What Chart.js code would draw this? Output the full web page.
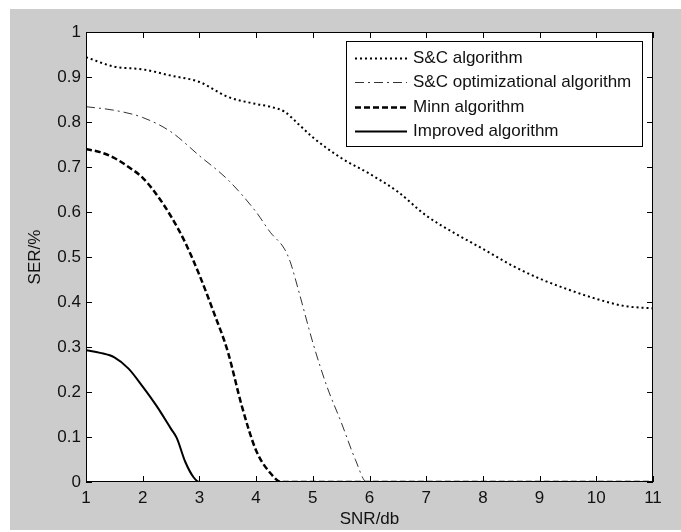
<!DOCTYPE html>
<html>
<head>
<meta charset="utf-8">
<title>SER vs SNR</title>
<script src="https://cdn.jsdelivr.net/npm/chart.js@4.4.1/dist/chart.umd.min.js"></script>
<style>
  html, body { margin: 0; padding: 0; background: #fff; }
  #wrap { width: 681px; height: 532px; }
</style>
</head>
<body>
<div id="wrap"><canvas id="serChart" width="681" height="532"></canvas></div>
<script>
// ---- data ----
const scX   = [1, 1.5, 2, 2.5, 3, 3.5, 4, 4.25, 4.5, 4.75, 5, 5.5, 6, 6.5, 7, 7.5, 8, 8.5, 9, 9.5, 10, 10.5, 11];
const scY   = [0.944, 0.923, 0.917, 0.903, 0.889, 0.856, 0.84, 0.834, 0.823, 0.795, 0.766, 0.72, 0.685, 0.645, 0.592, 0.553, 0.518, 0.482, 0.452, 0.428, 0.407, 0.391, 0.386];

const optX  = [1, 1.5, 2, 2.5, 3, 3.5, 4, 4.25, 4.5, 4.6, 4.75, 5, 5.25, 5.5, 5.75, 5.95, 11];
const optY  = [0.834, 0.826, 0.81, 0.778, 0.725, 0.672, 0.6, 0.555, 0.518, 0.49, 0.425, 0.31, 0.212, 0.133, 0.05, 0, 0];

const minnX = [1, 1.25, 1.5, 1.75, 2, 2.25, 2.5, 2.75, 3, 3.25, 3.5, 3.75, 4, 4.25, 4.45, 11];
const minnY = [0.74, 0.733, 0.72, 0.7, 0.676, 0.638, 0.59, 0.532, 0.46, 0.378, 0.29, 0.168, 0.07, 0.02, 0, 0];

const impX  = [1, 1.25, 1.5, 1.75, 2, 2.25, 2.5, 2.6, 2.75, 2.9, 3, 11];
const impY  = [0.293, 0.287, 0.277, 0.252, 0.212, 0.168, 0.118, 0.098, 0.045, 0.01, 0, 0];

const seriesNames = ['S&C algorithm', 'S&C optimizational algorithm', 'Minn algorithm', 'Improved algorithm'];
const xTicks = [1, 2, 3, 4, 5, 6, 7, 8, 9, 10, 11];
const yTicks = [0, 0.1, 0.2, 0.3, 0.4, 0.5, 0.6, 0.7, 0.8, 0.9, 1];

const FONT = "'Liberation Sans', Arial, sans-serif";

function pts(xs, ys) {
    return xs.map((x, i) => ({ x: x, y: ys[i] }));
}

// ---- figure background, axes box, inward ticks, legend ----
const matlabFrame = {
    id: 'matlabFrame',
    beforeDraw(chart) {
        const { ctx, chartArea: a, width, height } = chart;
        ctx.save();
        ctx.fillStyle = '#ffffff';
        ctx.fillRect(0, 0, width, height);
        ctx.fillStyle = '#cccccc';
        ctx.fillRect(10, 9, width - 10, height - 11);
        ctx.fillStyle = '#ffffff';
        ctx.fillRect(a.left, a.top, a.right - a.left, a.bottom - a.top);
        ctx.restore();
    },
    afterDatasetsDraw(chart) {
        const { ctx, chartArea: a, scales } = chart;
        const x = scales.x, y = scales.y;
        ctx.save();
        ctx.strokeStyle = '#000';
        ctx.lineWidth = 1;
        ctx.strokeRect(a.left + 0.5, a.top + 0.5, a.right - a.left - 1, a.bottom - a.top - 1);

        ctx.beginPath();
        xTicks.forEach(v => {
            const px = Math.round(x.getPixelForValue(v)) + 0.5;
            ctx.moveTo(px, a.bottom); ctx.lineTo(px, a.bottom - 6);
            ctx.moveTo(px, a.top);    ctx.lineTo(px, a.top + 6);
        });
        yTicks.forEach(v => {
            const py = Math.round(y.getPixelForValue(v)) + 0.5;
            ctx.moveTo(a.left, py);  ctx.lineTo(a.left + 6, py);
            ctx.moveTo(a.right, py); ctx.lineTo(a.right - 6, py);
        });
        ctx.stroke();

        // legend box
        const bx = a.right - 307, by = a.top + 9, bw = 296, bh = 105;
        ctx.fillStyle = '#fff';
        ctx.fillRect(bx, by, bw, bh);
        ctx.strokeRect(bx + 0.5, by + 0.5, bw, bh);

        ctx.font = '17px ' + FONT;
        ctx.textBaseline = 'middle';
        ctx.textAlign = 'left';
        chart.data.datasets.forEach((ds, i) => {
            const ly = Math.round(by + 17 + i * 24.4) + 0.5;
            ctx.save();
            ctx.strokeStyle = ds.borderColor;
            ctx.lineWidth = ds.borderWidth;
            ctx.setLineDash(ds.borderDash || []);
            ctx.beginPath();
            ctx.moveTo(bx + 9, ly);
            ctx.lineTo(bx + 61, ly);
            ctx.stroke();
            ctx.restore();
            ctx.fillStyle = '#111';
            ctx.fillText(ds.label, bx + 67, ly);
        });
        ctx.restore();
    }
};

const ctx = document.getElementById('serChart').getContext('2d');

new Chart(ctx, {
    type: 'line',
    data: {
        datasets: [
            {
                label: seriesNames[0],
                data: pts(scX, scY),
                borderColor: '#000',
                borderWidth: 2,
                borderDash: [2, 3]
            },
            {
                label: seriesNames[1],
                data: pts(optX, optY),
                borderColor: '#333',
                borderWidth: 1,
                borderDash: [9, 4, 2, 4]
            },
            {
                label: seriesNames[2],
                data: pts(minnX, minnY),
                borderColor: '#000',
                borderWidth: 2.5,
                borderDash: [6, 3]
            },
            {
                label: seriesNames[3],
                data: pts(impX, impY),
                borderColor: '#000',
                borderWidth: 2,
                borderDash: []
            }
        ]
    },
    options: {
        responsive: false,
        animation: false,
        devicePixelRatio: 1,
        layout: { padding: { left: 0, top: 32, right: 28, bottom: 0 } },
        elements: {
            point: { radius: 0 },
            line: { cubicInterpolationMode: 'monotone', fill: false }
        },
        plugins: {
            legend: { display: false },
            tooltip: { enabled: false }
        },
        scales: {
            x: {
                type: 'linear',
                min: 1,
                max: 11,
                grid: { display: false, drawTicks: false },
                border: { display: false },
                afterBuildTicks: s => { s.ticks = xTicks.map(v => ({ value: v })); },
                afterFit: s => { s.height = 50; },
                ticks: {
                    color: '#111',
                    font: { family: FONT, size: 17 },
                    padding: 6,
                    maxRotation: 0,
                    callback: v => String(v)
                },
                title: {
                    display: true,
                    text: 'SNR/db',
                    color: '#111',
                    font: { family: FONT, size: 17 },
                    padding: { top: 0, bottom: 2 }
                }
            },
            y: {
                type: 'linear',
                min: 0,
                max: 1,
                grid: { display: false, drawTicks: false },
                border: { display: false },
                afterBuildTicks: s => { s.ticks = yTicks.map(v => ({ value: v })); },
                afterFit: s => { s.width = 86; },
                ticks: {
                    color: '#111',
                    font: { family: FONT, size: 17 },
                    padding: 5,
                    callback: v => String(v)
                },
                title: {
                    display: true,
                    text: 'SER/%',
                    color: '#111',
                    font: { family: FONT, size: 17 },
                    padding: { top: 25, bottom: 0 }
                }
            }
        }
    },
    plugins: [matlabFrame]
});
</script>
</body>
</html>
